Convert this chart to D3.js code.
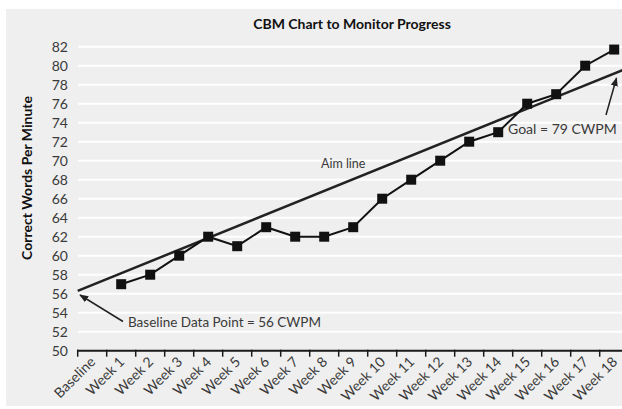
<!DOCTYPE html>
<html lang="en">
<head>
  <meta charset="UTF-8">
  <title>CBM Chart to Monitor Progress</title>
  <script src="https://d3js.org/d3.v7.min.js"></script>
  <style>
    body { margin: 0; background: white; }
    svg { display: block; font-family: Lato, "Open Sans", sans-serif; }
    .tick-label { fill: #3a3a3a; font-size: 14px; }
  </style>
</head>
<body>
  <div id="chart"></div>
  <script>
    const weeks = ['Baseline', 'Week 1', 'Week 2', 'Week 3', 'Week 4', 'Week 5', 'Week 6',
      'Week 7', 'Week 8', 'Week 9', 'Week 10', 'Week 11', 'Week 12', 'Week 13',
      'Week 14', 'Week 15', 'Week 16', 'Week 17', 'Week 18']
    const scoreWeeks = weeks.slice(1)
    const scores = [57, 58, 60, 62, 61, 63, 62, 62, 63, 66, 68, 70, 72, 73, 76, 77, 80, 81.7]
    const yTicks = [50, 52, 54, 56, 58, 60, 62, 64, 66, 68, 70, 72, 74, 76, 78, 80, 82]
    const aimStart = 56.3
    const aimEnd = 79.8

    const width = 622
    const height = 409

    const svg = d3.select('#chart')
      .append('svg')
      .attr('width', width)
      .attr('height', height)

    // grey panel
    svg.append('rect')
      .attr('x', 6).attr('y', 9)
      .attr('width', width - 6).attr('height', height - 12)
      .attr('fill', '#efefef')

    const x = d3.scaleBand()
      .domain(weeks)
      .range([77.7, 628.7])

    const y = d3.scaleLinear()
      .domain([50, 82])
      .range([350.7, 46.7])

    // gridlines
    svg.selectAll('.grid')
      .data(yTicks.slice(1))
      .enter()
      .append('line')
      .attr('x1', 78)
      .attr('x2', width)
      .attr('y1', d => y(d))
      .attr('y2', d => y(d))
      .attr('stroke', 'white')
      .attr('stroke-width', 2)

    // y labels
    svg.selectAll('.ylab')
      .data(yTicks)
      .enter()
      .append('text')
      .attr('class', 'tick-label')
      .attr('x', 68)
      .attr('y', d => y(d))
      .attr('dy', '0.35em')
      .attr('text-anchor', 'end')
      .text(d => d)

    // x axis
    svg.append('line')
      .attr('x1', 77)
      .attr('x2', width)
      .attr('y1', y(50))
      .attr('y2', y(50))
      .attr('stroke', '#1a1a1a')
      .attr('stroke-width', 2)

    svg.selectAll('.xtick')
      .data(weeks)
      .enter()
      .append('line')
      .attr('x1', d => x(d))
      .attr('x2', d => x(d))
      .attr('y1', y(50) - 1)
      .attr('y2', y(50) + 6)
      .attr('stroke', '#1a1a1a')
      .attr('stroke-width', 1.5)

    svg.selectAll('.xlab')
      .data(weeks)
      .enter()
      .append('text')
      .attr('class', 'tick-label')
      .attr('text-anchor', 'end')
      .attr('transform', d => `translate(${x(d) + x.bandwidth() / 2 + 4},${y(50) + 12}) rotate(-45)`)
      .text(d => d)

    // aim line
    const aimLine = d3.scaleLinear()
      .domain([0, 1])
      .range([aimStart, aimEnd])

    svg.append('line')
      .attr('x1', x('Baseline'))
      .attr('y1', y(aimLine(0)))
      .attr('x2', x('Week 18') + x.bandwidth())
      .attr('y2', y(aimLine(1)))
      .attr('stroke', '#222')
      .attr('stroke-width', 2.5)

    // progress line
    const line = d3.line()
      .x((d, i) => x(scoreWeeks[i]) + x.bandwidth() / 2)
      .y(d => y(d))

    svg.append('path')
      .datum(scores)
      .attr('d', line)
      .attr('fill', 'none')
      .attr('stroke', '#111')
      .attr('stroke-width', 2)

    svg.selectAll('.marker')
      .data(scores)
      .enter()
      .append('rect')
      .attr('x', (d, i) => x(scoreWeeks[i]) + x.bandwidth() / 2 - 5)
      .attr('y', d => y(d) - 5)
      .attr('width', 10)
      .attr('height', 10)
      .attr('fill', '#111')

    // annotations
    const defs = svg.append('defs')
    defs.append('marker')
      .attr('id', 'arrow')
      .attr('viewBox', '0 0 10 10')
      .attr('refX', 9).attr('refY', 5)
      .attr('markerWidth', 6).attr('markerHeight', 6)
      .attr('orient', 'auto-start-reverse')
      .append('path')
      .attr('d', 'M0,1 L10,5 L0,9 Z')
      .attr('fill', '#222')

    svg.append('line')
      .attr('x1', 123).attr('y1', 321.5)
      .attr('x2', 80).attr('y2', 295)
      .attr('stroke', '#222')
      .attr('stroke-width', 1.5)
      .attr('marker-end', 'url(#arrow)')

    svg.append('text')
      .attr('x', 128).attr('y', 322)
      .attr('dy', '0.35em')
      .attr('fill', '#3a3a3a')
      .attr('font-size', 13.5)
      .text('Baseline Data Point = 56 CWPM')

    svg.append('line')
      .attr('x1', 606).attr('y1', 115)
      .attr('x2', 616.5).attr('y2', 78)
      .attr('stroke', '#222')
      .attr('stroke-width', 1.5)
      .attr('marker-end', 'url(#arrow)')

    svg.append('text')
      .attr('x', 508).attr('y', 129)
      .attr('dy', '0.35em')
      .attr('fill', '#3a3a3a')
      .attr('font-size', 14)
      .text('Goal = 79 CWPM')

    svg.append('text')
      .attr('x', 321).attr('y', 164)
      .attr('dy', '0.35em')
      .attr('fill', '#3a3a3a')
      .attr('font-size', 12.5)
      .text('Aim line')

    // titles
    svg.append('text')
      .attr('x', 352).attr('y', 24)
      .attr('dy', '0.35em')
      .attr('text-anchor', 'middle')
      .attr('font-size', 14)
      .attr('font-weight', 'bold')
      .attr('fill', '#111')
      .text('CBM Chart to Monitor Progress')

    svg.append('text')
      .attr('transform', 'translate(27,178) rotate(-90)')
      .attr('dy', '0.35em')
      .attr('text-anchor', 'middle')
      .attr('font-size', 14)
      .attr('font-weight', 'bold')
      .attr('fill', '#111')
      .text('Correct Words Per Minute')
  </script>
</body>
</html>
